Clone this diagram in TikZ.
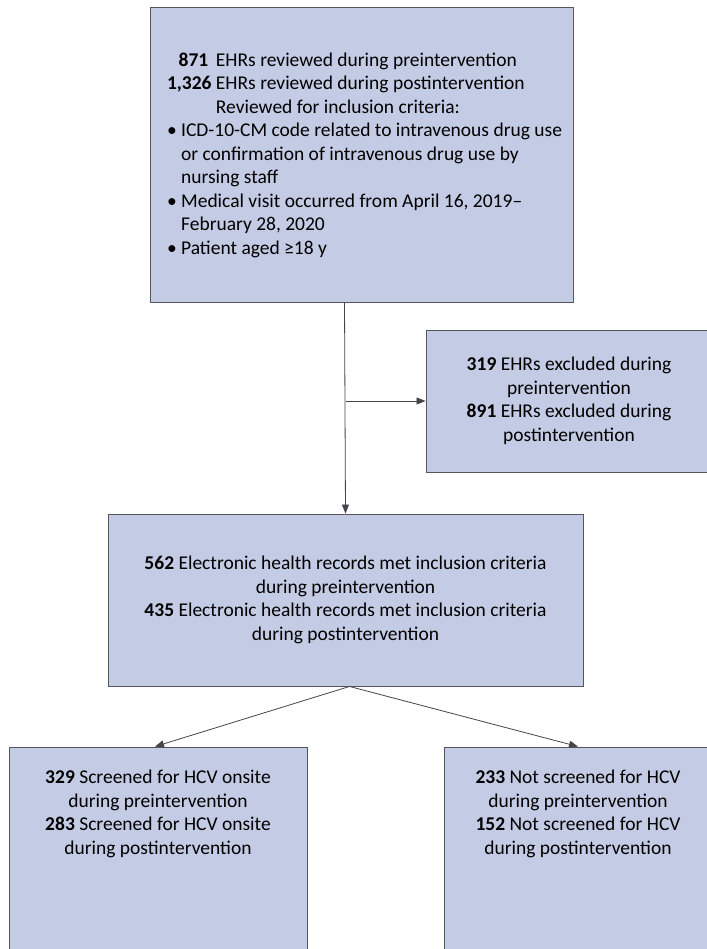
\documentclass[tikz,border=0pt]{standalone}
\usepackage{fontspec}
\setmainfont{Carlito}
\usetikzlibrary{positioning,arrows.meta}
\definecolor{boxfill}{RGB}{196,203,228}
\definecolor{boxline}{RGB}{85,85,95}
\newlength{\numw}
\settowidth{\numw}{\fontsize{19.5pt}{23.5pt}\selectfont\textbf{1,326}}
\tikzset{
  flowbox/.style={draw=boxline,fill=boxfill,line width=0.9pt,inner sep=0pt},
  flowtext/.style={font=\fontsize{19.5pt}{23.5pt}\selectfont,inner sep=0pt},
  flowarrow/.style={draw=boxline!80!black,line width=0.8pt,-{Triangle[length=9pt,width=7pt]}}
}
\begin{document}
\begin{tikzpicture}[x=1pt,y=-1pt]
        \useasboundingbox (0,0) rectangle (706,949);
        % boxes
        \node[flowbox,minimum width=423pt,minimum height=295pt] (review) at (361.5,154.5) {};
        \node[flowbox,minimum width=286pt,minimum height=142pt] (excl) at (569,401) {};
        \node[flowbox,minimum width=475pt,minimum height=172pt] (incl) at (345.5,600) {};
        \node[flowbox,minimum width=298pt,minimum height=213pt] (scr) at (158,853.5) {};
        \node[flowbox,minimum width=268pt,minimum height=213pt] (noscr) at (578,853.5) {};
        % texts
        \node[flowtext,align=left] (reviewtxt) at (364.5,155) {%
            \makebox[\numw][r]{\textbf{871}\,}\ EHRs reviewed during preintervention\\
            \makebox[\numw][r]{\textbf{1,326}}\ EHRs reviewed during postintervention\\
            \hspace*{\numw}\ Reviewed for inclusion criteria:\\
            \textbullet\ ICD-10-CM code related to intravenous drug use\\
            \phantom{\textbullet\ }or confirmation of intravenous drug use by\\
            \phantom{\textbullet\ }nursing staff\\
            \textbullet\ Medical visit occurred from April 16, 2019--\\
            \phantom{\textbullet\ }February 28, 2020\\
            \textbullet\ Patient aged ≥18 y};
        \node[flowtext,align=center] (excltxt) at (excl) {%
            \textbf{319} EHRs excluded during\\ preintervention\\
            \textbf{891} EHRs excluded during\\ postintervention};
        \node[flowtext,align=center] (incltxt) at (incl) {%
            \textbf{562} Electronic health records met inclusion criteria\\ during preintervention\\
            \textbf{435} Electronic health records met inclusion criteria\\ during postintervention};
        \node[flowtext,align=center] (scrtxt) at (158,814) {%
            \textbf{329} Screened for HCV onsite\\ during preintervention\\
            \textbf{283} Screened for HCV onsite\\ during postintervention};
        \node[flowtext,align=center] (noscrtxt) at (578,814) {%
            \textbf{233} Not screened for HCV\\ during preintervention\\
            \textbf{152} Not screened for HCV\\ during postintervention};
        % connectors
        \coordinate (split) at (excl.west -| incl.north);
        \draw[flowarrow] ([xshift=-17pt]review.south) -- (incl.north);
        \draw[flowarrow] (split) -- (excl.west);
        \draw[flowarrow] ([xshift=4pt]incl.south) -- ([xshift=-3pt]scr.north);
        \draw[flowarrow] ([xshift=4pt]incl.south) -- (noscr.north);
    \end{tikzpicture}
\end{document}
